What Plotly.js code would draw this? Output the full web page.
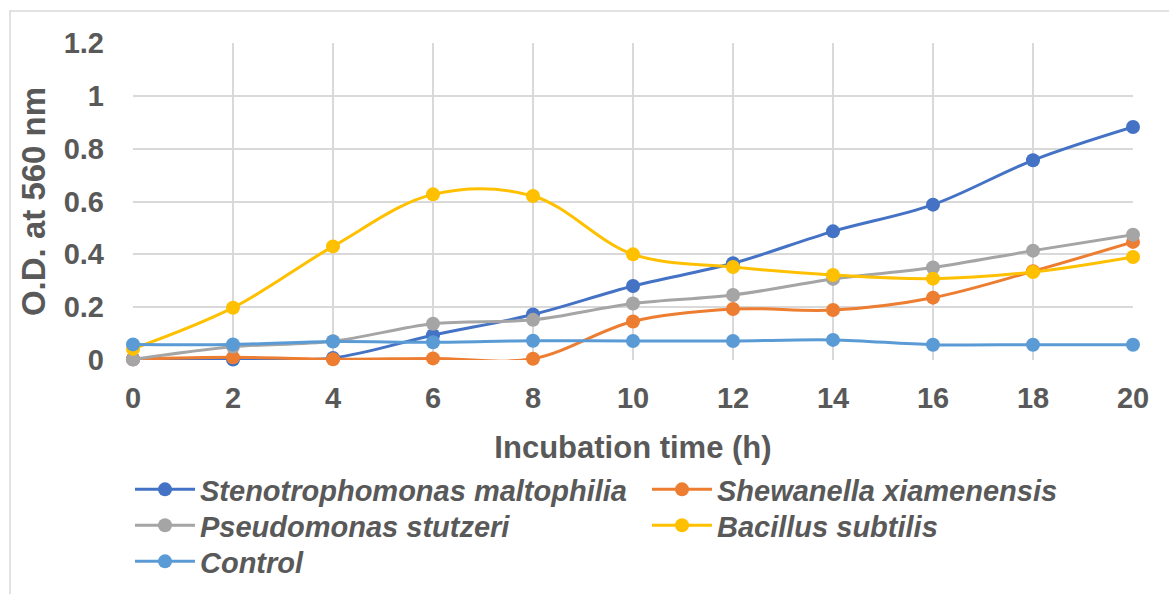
<!DOCTYPE html>
<html><head><meta charset="utf-8">
<script src="https://cdn.plot.ly/plotly-3.0.1.min.js"></script>
<style>html,body{margin:0;padding:0;background:#fff}#chart{width:1169px;height:594px}</style>
</head><body><div id="chart"></div>
<script>
const hours = [0, 2, 4, 6, 8, 10, 12, 14, 16, 18, 20];
const seriesNames = ["Stenotrophomonas maltophilia", "Shewanella xiamenensis", "Pseudomonas stutzeri", "Bacillus subtilis", "Control"];
const steno = [0.003, 0.002, 0.008, 0.094, 0.172, 0.280, 0.366, 0.487, 0.588, 0.756, 0.882];
const shewanella = [0.003, 0.010, 0.003, 0.006, 0.005, 0.146, 0.193, 0.189, 0.236, 0.336, 0.447];
const pseudomonas = [0.002, 0.050, 0.071, 0.137, 0.152, 0.214, 0.246, 0.307, 0.350, 0.414, 0.474];
const bacillus = [0.042, 0.198, 0.430, 0.627, 0.621, 0.400, 0.352, 0.322, 0.308, 0.333, 0.390];
const control = [0.059, 0.059, 0.070, 0.067, 0.073, 0.072, 0.072, 0.076, 0.058, 0.058, 0.058];
const colors = ["#4472C4", "#ED7D31", "#A5A5A5", "#FFC000", "#5B9BD5"];

const allSeries = [steno, shewanella, pseudomonas, bacillus, control];
const legendIds = ["legend", "legend2", "legend3", "legend4", "legend5"];
const txt = "#595959";
const FONT = "Liberation Sans, Arial, sans-serif";

const traces = allSeries.map((ys, i) => ({
  x: hours, y: ys, name: seriesNames[i], type: "scatter", mode: "lines+markers",
  line: {color: colors[i], width: 3, shape: "spline", smoothing: 1},
  marker: {color: colors[i], size: 14},
  legend: legendIds[i], cliponaxis: false
}));

function leg(x, y) {
  return {orientation: "v", x: x, xanchor: "left", y: y, yanchor: "middle",
    bgcolor: "rgba(0,0,0,0)", borderwidth: 0,
    font: {family: FONT, size: 29, color: txt, style: "italic", weight: "bold"}, itemwidth: 60};
}
const colX = [-0.003, 0.514];
const rowY = [-0.4085, -0.522, -0.6356];

const layout = {
  width: 1169, height: 594,
  margin: {l: 133, r: 36, t: 43, b: 234, autoexpand: false},
  paper_bgcolor: "#fff", plot_bgcolor: "#fff",
  font: {family: FONT, color: txt},
  xaxis: {range: [0, 20], dtick: 2, tick0: 0, showgrid: true, gridcolor: "#D9D9D9", gridwidth: 2,
    zeroline: false, showline: false, ticks: "", ticklabelstandoff: 18, automargin: false,
    tickfont: {family: FONT, size: 29, color: txt, weight: "bold"},
    title: {text: "Incubation time (h)", font: {family: FONT, size: 31, color: txt, weight: "bold"}, standoff: 23}},
  yaxis: {range: [0, 1.2], dtick: 0.2, tick0: 0, showgrid: true, gridcolor: "#D9D9D9", gridwidth: 2,
    zeroline: false, showline: false, ticks: "", ticklabelstandoff: 28, automargin: false,
    tickfont: {family: FONT, size: 29, color: txt, weight: "bold"},
    title: {text: "O.D. at 560 nm", font: {family: FONT, size: 33, color: txt, weight: "bold"}, standoff: 8}},
  showlegend: true,
  legend: leg(colX[0], rowY[0]),
  legend2: leg(colX[1], rowY[0]),
  legend3: leg(colX[0], rowY[1]),
  legend4: leg(colX[1], rowY[1]),
  legend5: leg(colX[0], rowY[2]),
  shapes: [{type: "rect", xref: "paper", yref: "paper", x0: -0.123, x1: 1.1, y0: -0.8, y1: 1.101,
    line: {color: "#D9D9D9", width: 1.5}, fillcolor: "rgba(0,0,0,0)", layer: "below"}]
};
Plotly.newPlot("chart", traces, layout, {displayModeBar: false, staticPlot: true});
</script></body></html>
